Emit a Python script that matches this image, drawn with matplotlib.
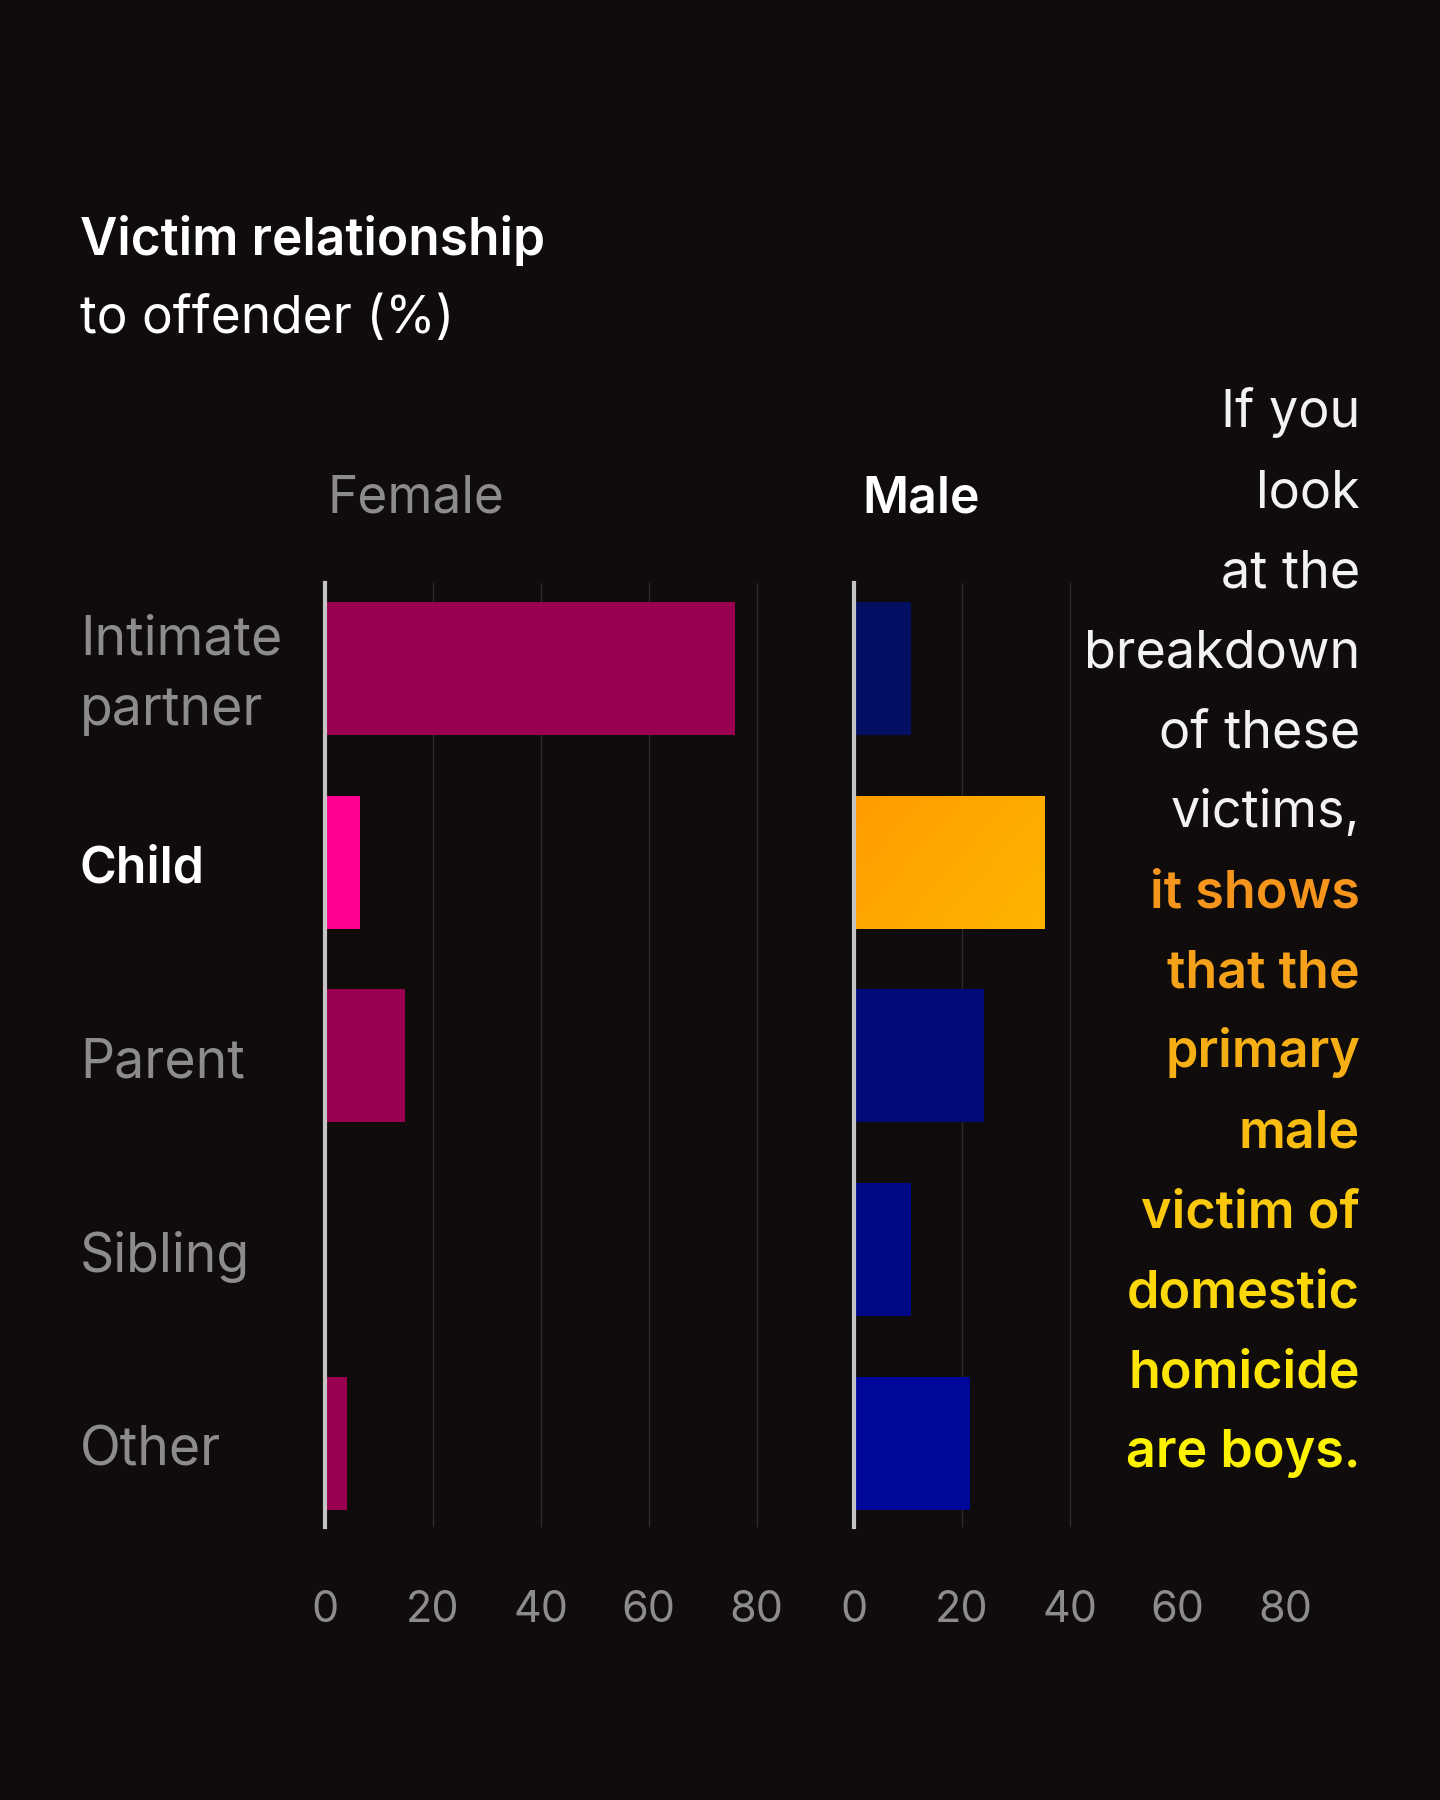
import numpy as np
import matplotlib.pyplot as plt
from matplotlib.colors import LinearSegmentedColormap
from matplotlib.transforms import blended_transform_factory, offset_copy

categories = ["Intimate\npartner", "Child", "Parent", "Sibling", "Other"]
female = [76, 6.4, 14.9, 0, 4]
male = [10.6, 35.3, 24, 10.6, 21.5]
ticks = [0, 20, 40, 60, 80]

female_colors = ["#990050", "#ff0090", "#990050", "#990050", "#990050"]
male_colors = ["#020f63", "#ffa500", "#010a78", "#000886", "#00089c"]

note_lines = ["If you", "look", "at the", "breakdown", "of these", "victims,",
              "it shows", "that the", "primary", "male", "victim of",
              "domestic", "homicide", "are boys."]
note_colors = ["#f2f2f2"] * 6 + ["#f5951c", "#f5a11a", "#f6ae15", "#f8bd10",
                                 "#fac90d", "#fcd70a", "#fde506", "#fff200"]

BG = "#100c0b"
GREY = "#8c8c8c"
FONT = "Inter"

plt.rcParams['font.family'] = [FONT, 'DejaVu Sans']

fig = plt.figure(figsize=(14.4, 18), dpi=100, facecolor=BG)
W, H = 1440, 1800


def px(x, y):
    return x / W, 1 - y / H


ax_w = 85 * 5.397
ax_f = fig.add_axes([325 / W, 1 - 1527 / H, ax_w / W, (1527 - 583) / H])
ax_m = fig.add_axes([854 / W, 1 - 1527 / H, ax_w / W, (1527 - 583) / H])

y = np.arange(len(categories))

for ax, vals, cols, grid in [(ax_f, female, female_colors, [20, 40, 60, 80]),
                             (ax_m, male, male_colors, [20, 40])]:
    ax.set_facecolor(BG)
    for g in grid:
        ax.axvline(g, color="#2e2a29", lw=1, zorder=0)
    ax.barh(y, vals, height=0.686, color=cols, zorder=2)
    ax.set_xlim(0, 85)
    ax.set_ylim(4.43, -0.44)
    for s in ["top", "right", "bottom"]:
        ax.spines[s].set_visible(False)
    ax.spines["left"].set_color("#c4c4c4")
    ax.spines["left"].set_linewidth(3)
    ax.spines["left"].set_zorder(3)
    ax.set_yticks([])
    ax.set_xticks(ticks)
    ax.set_xticklabels([str(t) for t in ticks])
    ax.tick_params(axis="x", length=0, pad=45, labelsize=31, labelcolor=GREY)

# orange gradient on the male child bar
b = ax_m.patches[1]
x0, y0 = b.get_x(), b.get_y()
grad = np.linspace(0, 1, 256).reshape(1, -1) + np.linspace(0, 0.6, 64).reshape(-1, 1)
cmap = LinearSegmentedColormap.from_list("org", ["#ff9c00", "#ffb400"])
im = ax_m.imshow(grad, cmap=cmap, aspect="auto", zorder=2.5,
                 extent=[x0, x0 + b.get_width(), y0 + b.get_height(), y0])
im.set_clip_path(b)
ax_m.set_xlim(0, 85)
ax_m.set_ylim(4.43, -0.44)

# category labels
tr = blended_transform_factory(fig.transFigure, ax_f.transData)
tr = offset_copy(tr, fig=fig, y=-5, units="points")
for i, c in enumerate(categories):
    bold = c == "Child"
    ax_f.text(80 / W, i, c, transform=tr, ha="left", va="center",
              fontsize=36 if bold else 38.5, color="white" if bold else GREY,
              fontweight="semibold" if bold else "normal", linespacing=1.5)

# headers
fig.text(*px(327, 513), "Female", fontsize=37, color=GREY, ha="left", va="baseline")
fig.text(*px(862, 513), "Male", fontsize=36, color="white", fontweight="semibold",
         ha="left", va="baseline")

# title
fig.text(*px(80, 255), "Victim relationship", fontsize=37, color="white",
         fontweight="semibold", ha="left", va="baseline")
fig.text(*px(80, 333), "to offender (%)", fontsize=37, color="white",
         ha="left", va="baseline")

# annotation
for i, (t, c) in enumerate(zip(note_lines, note_colors)):
    fig.text(*px(1360, 427 + i * 80), t, fontsize=37.5, color=c,
             fontweight="semibold" if i >= 6 else "normal", ha="right", va="baseline")

fig.savefig("out.png", dpi=100, facecolor=BG)
